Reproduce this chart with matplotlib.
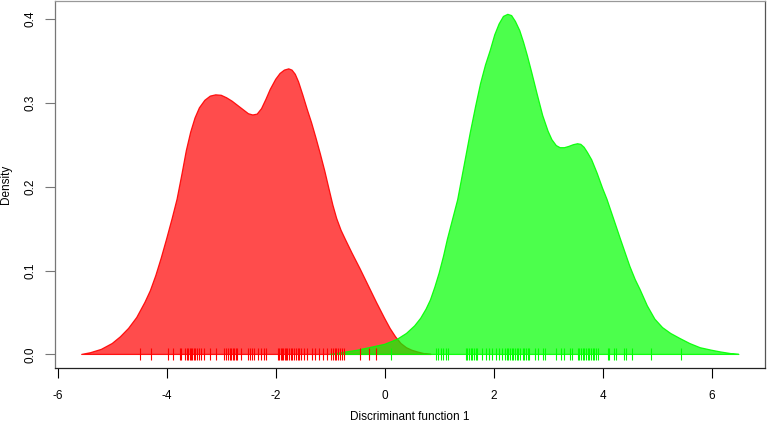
import matplotlib
matplotlib.use("Agg")
import matplotlib.pyplot as plt

plt.rcParams['font.family'] = ['Liberation Sans', 'DejaVu Sans']

# Density curve of group 1 (red)
red_x = [-5.56, -5.4, -5.2, -5.0, -4.85, -4.7, -4.55, -4.4, -4.3, -4.2, -4.1, -4.0, -3.9,
         -3.81, -3.72, -3.64, -3.56, -3.48, -3.4, -3.3, -3.2, -3.1, -3.0, -2.9, -2.8, -2.7,
         -2.6, -2.5, -2.42, -2.34, -2.26, -2.18, -2.1, -2.0, -1.92, -1.84, -1.76, -1.7,
         -1.64, -1.58, -1.5, -1.42, -1.34, -1.26, -1.18, -1.1, -1.02, -0.95, -0.88, -0.8,
         -0.72, -0.6, -0.45, -0.3, -0.15, 0.0, 0.1, 0.2, 0.3, 0.4, 0.5, 0.6, 0.72, 0.85]
red_y = [0.0, 0.002, 0.006, 0.013, 0.021, 0.031, 0.044, 0.062, 0.076, 0.094, 0.115, 0.138,
         0.162, 0.185, 0.215, 0.243, 0.265, 0.282, 0.294, 0.303, 0.308, 0.3095, 0.309, 0.306,
         0.302, 0.297, 0.292, 0.287, 0.2855, 0.2865, 0.293, 0.304, 0.316, 0.328, 0.335,
         0.339, 0.3405, 0.339, 0.334, 0.325, 0.309, 0.292, 0.276, 0.258, 0.239, 0.219,
         0.197, 0.178, 0.162, 0.148, 0.137, 0.121, 0.102, 0.082, 0.062, 0.043, 0.031, 0.021,
         0.013, 0.008, 0.005, 0.003, 0.001, 0.0]

# Density curve of group 2 (green)
green_x = [-1.0, -0.5, 0.0, 0.23, 0.4, 0.55, 0.66, 0.76, 0.84, 0.92, 1.0, 1.08, 1.15, 1.25,
           1.34, 1.46, 1.57, 1.67, 1.76, 1.85, 1.94, 2.02, 2.1, 2.18, 2.26, 2.33, 2.4, 2.48,
           2.55, 2.62, 2.7, 2.8, 2.9, 3.0, 3.07, 3.15, 3.22, 3.3, 3.38, 3.46, 3.54, 3.6, 3.66,
           3.72, 3.8, 3.9, 4.0, 4.08, 4.2, 4.33, 4.5, 4.6, 4.69, 4.82, 4.96, 5.1, 5.25, 5.42,
           5.6, 5.79, 6.0, 6.16, 6.35, 6.5]
green_y = [0.0, 0.005, 0.012, 0.018, 0.025, 0.034, 0.043, 0.054, 0.065, 0.080, 0.097, 0.117,
           0.137, 0.162, 0.1845, 0.226, 0.264, 0.296, 0.323, 0.345, 0.363, 0.381, 0.394,
           0.403, 0.4055, 0.404, 0.397, 0.386, 0.372, 0.356, 0.336, 0.310, 0.285, 0.266,
           0.256, 0.249, 0.2465, 0.2465, 0.248, 0.250, 0.2512, 0.2505, 0.247, 0.241, 0.232,
           0.216, 0.198, 0.185, 0.162, 0.137, 0.105, 0.089, 0.077, 0.058, 0.042, 0.032, 0.025,
           0.019, 0.013, 0.008, 0.005, 0.003, 0.001, 0.0]

# Observed discriminant scores (rug marks)
red_scores = [-4.495, -4.287, -3.981, -3.883, -3.761, -3.736, -3.657, -3.626, -3.602, -3.577,
              -3.553, -3.528, -3.504, -3.473, -3.443, -3.400, -3.363, -3.321, -3.198, -3.088,
              -2.941, -2.911, -2.880, -2.843, -2.813, -2.782, -2.758, -2.733, -2.709, -2.635,
              -2.513, -2.477, -2.434, -2.391, -2.323, -2.268, -2.207, -2.171, -1.957, -1.932,
              -1.908, -1.883, -1.859, -1.834, -1.810, -1.785, -1.755, -1.724, -1.694, -1.663,
              -1.632, -1.596, -1.571, -1.534, -1.486, -1.424, -1.333, -1.272, -1.204, -1.125,
              -1.051, -0.990, -0.947, -0.917, -0.886, -0.850, -0.813, -0.776, -0.746, -0.458,
              -0.287, -0.158]
green_scores = [0.111, 0.936, 0.979, 1.028, 1.071, 1.120, 1.169, 1.487, 1.517, 1.548, 1.579,
                1.609, 1.640, 1.670, 1.701, 1.780, 1.854, 1.915, 1.976, 2.037, 2.099, 2.160,
                2.215, 2.245, 2.270, 2.300, 2.331, 2.361, 2.392, 2.429, 2.453, 2.484, 2.533,
                2.563, 2.594, 2.624, 2.655, 2.759, 2.808, 2.900, 2.943, 3.144, 3.236, 3.297,
                3.407, 3.438, 3.542, 3.572, 3.603, 3.634, 3.664, 3.695, 3.725, 3.756, 3.787,
                3.817, 3.848, 3.878, 3.909, 4.092, 4.123, 4.215, 4.245, 4.386, 4.429, 4.533,
                4.888, 5.438]

x_ticks = [-6, -4, -2, 0, 2, 4, 6]
y_ticks = [0.0, 0.1, 0.2, 0.3, 0.4]
y_tick_labels = ["0.0", "0.1", "0.2", "0.3", "0.4"]

fig = plt.figure(figsize=(7.67, 4.23), dpi=100)
ax = fig.add_axes([55 / 767, (423 - 368) / 423, 710 / 767, 367 / 423])

ax.fill(red_x, red_y, facecolor=(1, 0, 0, 0.7), edgecolor=(1, 0, 0, 0.9), linewidth=0.9,
        joinstyle='round')
ax.fill(green_x, green_y, facecolor=(0, 1, 0, 0.7), edgecolor=(0, 1, 0, 0.9), linewidth=0.9,
        joinstyle='round')

ax.plot(red_scores, [0] * len(red_scores), linestyle='none', marker='|', color='red',
        markersize=8, markeredgewidth=0.8)
ax.plot(green_scores, [0] * len(green_scores), linestyle='none', marker='|', color='#00ff00',
        markersize=8, markeredgewidth=0.8)

ax.set_xlim(-6.05, 6.98)
ax.set_ylim(-0.0162, 0.4214)

ax.set_xticks(x_ticks)
ax.set_xticklabels([str(t) for t in x_ticks])
ax.set_yticks(y_ticks)
ax.set_yticklabels(y_tick_labels, rotation=90, va='center')

ax.tick_params(axis='x', length=7, width=0.8, pad=9, labelsize=8.5, colors='black')
ax.tick_params(axis='y', length=7, width=0.8, pad=6, labelsize=8.5, color='#777777',
               labelcolor='black')

ax.spines['top'].set_color('#999999')
ax.spines['left'].set_color('#777777')
ax.spines['right'].set_color('#555555')
ax.spines['bottom'].set_color('#222222')
for s in ax.spines.values():
    s.set_linewidth(0.9)

fig.text(410 / 767, 1 - 417 / 423, "Discriminant function 1", ha='center', va='center',
         fontsize=8.5)
fig.text(6 / 767, 1 - 184 / 423, "Density", ha='center', va='center', rotation=90,
         fontsize=8.5)

fig.savefig("out.png", dpi=100)
